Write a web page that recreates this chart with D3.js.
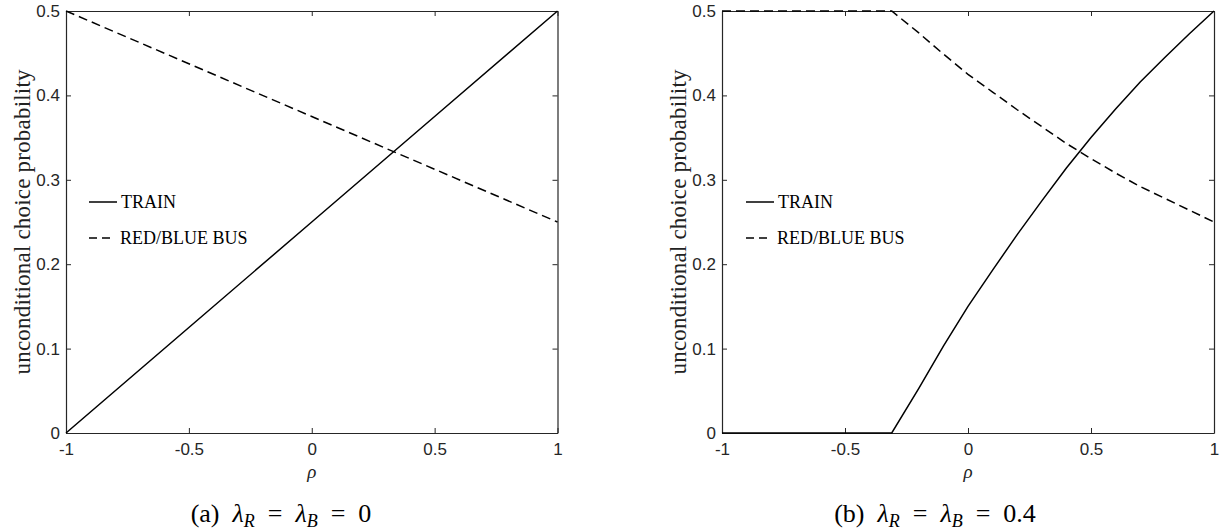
<!DOCTYPE html>
<html>
<head>
<meta charset="utf-8">
<script src="https://cdn.jsdelivr.net/npm/d3@7/dist/d3.min.js"></script>
<style>
  html, body { margin: 0; padding: 0; background: #fff; }
  svg { display: block; }
</style>
</head>
<body>
<svg id="chart" width="1229" height="531"></svg>
<script>
// ---------- data ----------
const xTicks = [-1, -0.5, 0, 0.5, 1];
const xTickLabels = ["-1", "-0.5", "0", "0.5", "1"];
const yTicks = [0, 0.1, 0.2, 0.3, 0.4, 0.5];
const yTickLabels = ["0", "0.1", "0.2", "0.3", "0.4", "0.5"];
const seriesNames = ["TRAIN", "RED/BLUE BUS"];

// panel (a): lambda_R = lambda_B = 0
const rhoA   = [-1, -0.5, 0, 0.5, 1];
const trainA = [0, 0.125, 0.25, 0.375, 0.5];
const busA   = [0.5, 0.4375, 0.375, 0.3125, 0.25];

// panel (b): lambda_R = lambda_B = 0.4
const rhoB   = [-1, -0.31, -0.2, -0.1, 0, 0.1, 0.2, 0.3, 0.4, 0.5, 0.6, 0.7, 0.8, 0.9, 1];
const trainB = [0, 0, 0.053, 0.103, 0.150, 0.193, 0.235, 0.275, 0.314, 0.350, 0.384, 0.416, 0.445, 0.473, 0.5];
const busB   = [0.5, 0.5, 0.474, 0.449, 0.425, 0.404, 0.383, 0.363, 0.343, 0.325, 0.308, 0.292, 0.278, 0.264, 0.25];

const yLabel = "unconditional choice probability";
const xLabel = "ρ";
const captions = [
  { tag: "(a)", value: "0" },
  { tag: "(b)", value: "0.4" }
];

// ---------- layout ----------
const svg = d3.select("#chart");
const axisColor = "#262626";
const serif = "'Liberation Serif', 'Times New Roman', serif";
const panels = [
  { left: 66, right: 557.5, rho: rhoA, train: trainA, bus: busA, cap: captions[0], capX: 281, legX: 89 },
  { left: 722, right: 1214, rho: rhoB, train: trainB, bus: busB, cap: captions[1], capX: 935, legX: 746 }
];
const plotTop = 11, plotBottom = 433;

panels.forEach(p => {
  const x = d3.scaleLinear().domain([-1, 1]).range([p.left, p.right]);
  const y = d3.scaleLinear().domain([0, 0.5]).range([plotBottom, plotTop]);
  const g = svg.append("g");

  const fmtX = d => xTickLabels[xTicks.indexOf(d)];
  const fmtY = d => yTickLabels[yTicks.indexOf(d)];
  const ax = [
    g.append("g").attr("transform", `translate(0,${plotBottom})`)
      .call(d3.axisBottom(x).tickValues(xTicks).tickFormat(fmtX).tickSizeInner(-5).tickSizeOuter(0).tickPadding(10)),
    g.append("g").attr("transform", `translate(0,${plotTop})`)
      .call(d3.axisTop(x).tickValues(xTicks).tickFormat("").tickSizeInner(-5).tickSizeOuter(0)),
    g.append("g").attr("transform", `translate(${p.left},0)`)
      .call(d3.axisLeft(y).tickValues(yTicks).tickFormat(fmtY).tickSizeInner(-5).tickSizeOuter(0).tickPadding(6)),
    g.append("g").attr("transform", `translate(${p.right},0)`)
      .call(d3.axisRight(y).tickValues(yTicks).tickFormat("").tickSizeInner(-5).tickSizeOuter(0))
  ];
  ax.forEach(a => {
    a.selectAll("path.domain").attr("stroke", axisColor).attr("stroke-width", 1.2);
    a.selectAll(".tick line").attr("stroke", axisColor).attr("stroke-width", 1);
    a.selectAll(".tick text").attr("fill", axisColor)
      .style("font-family", "'Liberation Sans', Arial, sans-serif").style("font-size", "17px");
  });

  const line = d3.line().x((d, i) => x(p.rho[i])).y(d => y(d));
  g.append("path").datum(p.train).attr("d", line)
    .attr("fill", "none").attr("stroke", "#000").attr("stroke-width", 1.5);
  g.append("path").datum(p.bus).attr("d", line)
    .attr("fill", "none").attr("stroke", "#000").attr("stroke-width", 1.5)
    .attr("stroke-dasharray", "9,5");

  const leg = g.append("g");
  const legY = [202, 238];
  seriesNames.forEach((name, i) => {
    leg.append("line").attr("x1", p.legX).attr("x2", p.legX + (i === 1 ? 21 : 28))
      .attr("y1", legY[i]).attr("y2", legY[i])
      .attr("stroke", "#000").attr("stroke-width", 1.5)
      .attr("stroke-dasharray", i === 1 ? "8,5" : null);
    leg.append("text").attr("x", i === 1 ? p.legX + 31 : p.legX + 32).attr("y", legY[i] + 6)
      .text(name)
      .style("font-family", serif).style("font-size", "18px")
      .attr("fill", "#000");
  });

  g.append("text")
    .attr("transform", `translate(${p.left - 44},${(plotTop + plotBottom) / 2}) rotate(-90)`)
    .attr("text-anchor", "middle")
    .attr("dominant-baseline", "middle")
    .attr("dy", "0.1em")
    .attr("textLength", 305).attr("lengthAdjust", "spacing")
    .style("font-family", serif).style("font-size", "23px")
    .attr("fill", "#222")
    .text(yLabel);

  g.append("text")
    .attr("x", (p.left + p.right) / 2).attr("y", 478)
    .attr("text-anchor", "middle")
    .style("font-family", serif).style("font-size", "19px")
    .style("font-style", "italic")
    .attr("fill", "#222")
    .text(xLabel);

  const cap = g.append("text")
    .attr("x", p.capX).attr("y", 522)
    .attr("text-anchor", "middle")
    .style("font-family", serif).style("font-size", "26px")
    .attr("fill", "#000");
  cap.append("tspan").text(p.cap.tag + "\u2002");
  cap.append("tspan").style("font-style", "italic").text("λ");
  cap.append("tspan").attr("dy", 5).style("font-size", "18px").style("font-style", "italic").text("R");
  cap.append("tspan").attr("dy", -5).text("\u2002=\u2002");
  cap.append("tspan").style("font-style", "italic").text("λ");
  cap.append("tspan").attr("dy", 5).style("font-size", "18px").style("font-style", "italic").text("B");
  cap.append("tspan").attr("dy", -5).text("\u2002=\u2002" + p.cap.value);
});
</script>
</body>
</html>
